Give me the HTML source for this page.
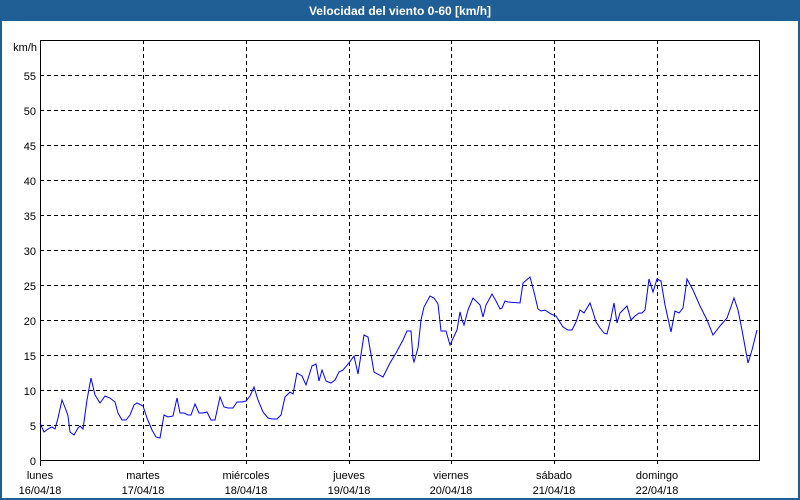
<!DOCTYPE html>
<html><head><meta charset="utf-8"><style>
html,body{margin:0;padding:0;width:800px;height:500px;overflow:hidden;background:#fff;}
</style></head><body>
<svg width="800" height="500" xmlns="http://www.w3.org/2000/svg" font-family="Liberation Sans, sans-serif" font-size="11">
<rect x="0" y="0" width="800" height="500" fill="#1f5f96"/>
<rect x="2" y="21" width="796" height="477" fill="#fff"/>
<text x="400" y="15" fill="#fff" font-weight="bold" font-size="12" text-anchor="middle">Velocidad del viento 0-60 [km/h]</text>
<g stroke="#000" stroke-dasharray="4,3" stroke-width="1">
<line x1="40" y1="425.5" x2="760" y2="425.5"/><line x1="40" y1="390.5" x2="760" y2="390.5"/>
<line x1="40" y1="355.5" x2="760" y2="355.5"/><line x1="40" y1="320.5" x2="760" y2="320.5"/>
<line x1="40" y1="285.5" x2="760" y2="285.5"/><line x1="40" y1="250.5" x2="760" y2="250.5"/>
<line x1="40" y1="215.5" x2="760" y2="215.5"/><line x1="40" y1="180.5" x2="760" y2="180.5"/>
<line x1="40" y1="145.5" x2="760" y2="145.5"/><line x1="40" y1="110.5" x2="760" y2="110.5"/>
<line x1="40" y1="75.5" x2="760" y2="75.5"/>
<line x1="143.5" y1="40" x2="143.5" y2="466"/><line x1="246.5" y1="40" x2="246.5" y2="466"/>
<line x1="349.5" y1="40" x2="349.5" y2="466"/><line x1="451.5" y1="40" x2="451.5" y2="466"/>
<line x1="554.5" y1="40" x2="554.5" y2="466"/><line x1="657.5" y1="40" x2="657.5" y2="466"/>
</g>
<rect x="40.5" y="40.5" width="719" height="420" fill="none" stroke="#000"/>
<line x1="40.5" y1="460" x2="40.5" y2="466" stroke="#000"/>
<g text-anchor="end" fill="#000">
<text x="37" y="51">km/h</text>
<text x="36" y="80">55</text><text x="36" y="115">50</text><text x="36" y="150">45</text>
<text x="36" y="185">40</text><text x="36" y="220">35</text><text x="36" y="255">30</text>
<text x="36" y="290">25</text><text x="36" y="325">20</text><text x="36" y="360">15</text>
<text x="36" y="395">10</text><text x="36" y="430">5</text><text x="36" y="465">0</text>
</g>
<g text-anchor="middle" fill="#000">
<text x="40" y="479">lunes</text><text x="40" y="494">16/04/18</text>
<text x="143" y="479">martes</text><text x="143" y="494">17/04/18</text>
<text x="246" y="479">miércoles</text><text x="246" y="494">18/04/18</text>
<text x="349" y="479">jueves</text><text x="349" y="494">19/04/18</text>
<text x="451" y="479">viernes</text><text x="451" y="494">20/04/18</text>
<text x="554" y="479">sábado</text><text x="554" y="494">21/04/18</text>
<text x="657" y="479">domingo</text><text x="657" y="494">22/04/18</text>
</g>
<polyline fill="none" stroke="#0000ff" stroke-width="1" points="40,423 44,432 48,429 52,427 55,429 58,418 62,400 66,410 68,416 70,432 74,435 78,428 80,426 83,429 87,400 91,378 95,395 100,403 105,396 110,398 115,402 118,413 122,420 126,420 130,415 134,405 137,403 143,406 147,418 152,430 156,437 160,438 164,415 168,417 173,416 177,398 180,413 184,413 188,415 191,415 195,404 199,413 203,413 207,412 211,420 215,420 220,397 224,407 228,408 233,408 237,402 242,402 246,401 250,396 254,387 258,400 263,412 268,418 272,419 277,419 281,415 285,397 290,392 293,394 297,373 302,376 306,385 312,366 316,364 319,381 322,370 326,381 331,383 335,380 339,372 343,370 349,363 354,356 358,374 364,335 368,337 374,372 383,377 390,363 396,353 403,340 407,331 411,331 413,358 414,362 418,348 421,320 424,307 430,296 434,298 438,304 441,331 446,331 450,345 457,330 460,312 462,320 464,325 468,310 473,298 480,305 483,317 486,305 492,294 496,301 500,309 502,308 505,301 508,302 520,303 523,283 530,277 534,292 538,309 541,311 545,310 551,314 556,316 563,327 568,330 572,330 576,322 580,310 584,313 587,308 590,303 593,312 596,322 600,328 604,333 607,334 611,318 614,303 617,323 620,313 623,310 627,306 631,320 635,316 639,313 642,313 645,310 649,279 653,292 657,279 661,281 665,305 671,332 675,311 679,313 683,308 687,279 693,290 700,306 707,320 713,335 720,326 727,318 734,298 738,310 742,330 746,352 748,363 752,350 757,330"/>
</svg>
</body></html>
